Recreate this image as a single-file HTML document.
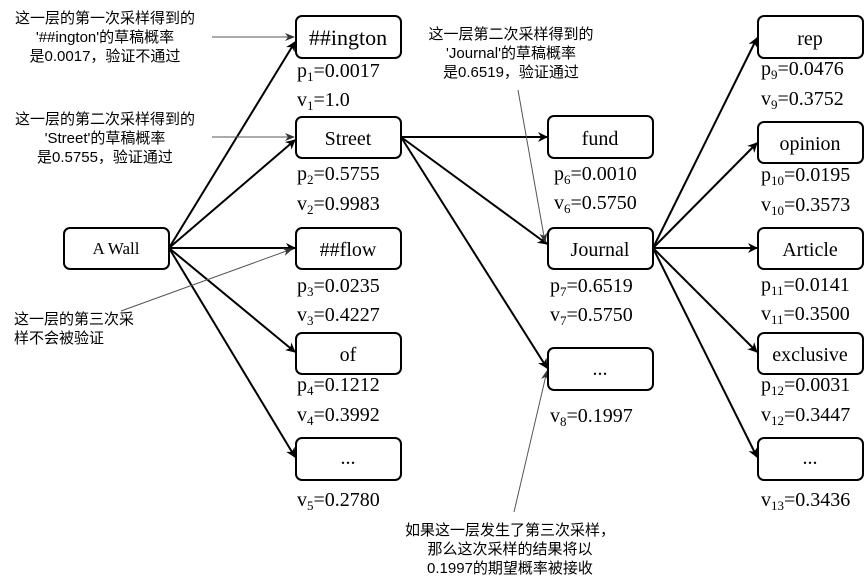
<!DOCTYPE html>
<html><head><meta charset="utf-8"><style>
body{margin:0;background:#fff}
svg{display:block}
.n{font-family:"Liberation Serif",serif;font-size:20px;fill:#000}
.c{font-family:"Liberation Sans","Noto Sans CJK SC",sans-serif;font-size:15px;fill:#000}
rect{fill:#fff;stroke:#000;stroke-width:2}
.a{stroke:#000;stroke-width:2;fill:none;marker-end:url(#ar)}
.t{stroke:#555;stroke-width:1;fill:none;marker-end:url(#ar2)}
</style></head><body>
<svg width="865" height="585" viewBox="0 0 865 585">
<defs>
<marker id="ar" markerWidth="10" markerHeight="10" refX="9" refY="5" orient="auto" markerUnits="userSpaceOnUse"><path d="M0,0 L10,5 L0,10 L3,5 z" fill="#000"/></marker>
<marker id="ar2" markerWidth="10" markerHeight="10" refX="9" refY="5" orient="auto" markerUnits="userSpaceOnUse"><path d="M0,1 L10,5 L0,9 L3,5 z" fill="#333"/></marker>
</defs>
<g>
<line class="a" x1="169" y1="248" x2="295" y2="42"/>
<line class="a" x1="169" y1="248" x2="295" y2="140"/>
<line class="a" x1="169" y1="248" x2="295" y2="248"/>
<line class="a" x1="169" y1="248" x2="295" y2="352"/>
<line class="a" x1="169" y1="248" x2="295" y2="457"/>
<line class="a" x1="401" y1="137" x2="547" y2="137"/>
<line class="a" x1="401" y1="137" x2="547" y2="244"/>
<line class="a" x1="401" y1="137" x2="547" y2="368"/>
<line class="a" x1="653" y1="248" x2="757" y2="38"/>
<line class="a" x1="653" y1="248" x2="757" y2="143"/>
<line class="a" x1="653" y1="248" x2="757" y2="248"/>
<line class="a" x1="653" y1="248" x2="757" y2="352"/>
<line class="a" x1="653" y1="248" x2="757" y2="457"/>
</g>
<g>
<line class="t" x1="212" y1="37" x2="294" y2="37"/>
<line class="t" x1="212" y1="137" x2="294" y2="137"/>
<line class="t" x1="121" y1="311" x2="292" y2="249"/>
<line class="t" x1="518" y1="90" x2="545" y2="242"/>
<line class="t" x1="514" y1="512" x2="547" y2="371"/>
</g>
<rect x="64" y="228" width="105" height="41" rx="6"/>
<rect x="296" y="16" width="105" height="42" rx="6"/>
<rect x="296" y="117" width="105" height="41" rx="6"/>
<rect x="296" y="228" width="105" height="41" rx="6"/>
<rect x="296" y="333" width="105" height="41" rx="6"/>
<rect x="296" y="438" width="105" height="42" rx="6"/>
<rect x="548" y="116" width="105" height="42" rx="6"/>
<rect x="548" y="228" width="105" height="41" rx="6"/>
<rect x="548" y="348" width="105" height="42" rx="6"/>
<rect x="758" y="16" width="105" height="42" rx="6"/>
<rect x="758" y="122" width="105" height="41" rx="6"/>
<rect x="758" y="228" width="105" height="41" rx="6"/>
<rect x="758" y="333" width="105" height="41" rx="6"/>
<rect x="758" y="438" width="105" height="42" rx="6"/>
<g class="n" text-anchor="middle">
<text x="116" y="254" font-size="17">A Wall</text>
<text x="348" y="45" font-size="22">##ington</text>
<text x="348" y="145">Street</text>
<text x="348" y="256">##flow</text>
<text x="348" y="361">of</text>
<text x="348" y="464">...</text>
<text x="600" y="145">fund</text>
<text x="600" y="256">Journal</text>
<text x="600" y="375">...</text>
<text x="810" y="45">rep</text>
<text x="810" y="150">opinion</text>
<text x="810" y="256">Article</text>
<text x="810" y="361">exclusive</text>
<text x="810" y="464">...</text>
</g>
<g class="n">
<text x="297" y="77">p<tspan font-size="13" dy="4">1</tspan><tspan dy="-4">=0.0017</tspan></text>
<text x="297" y="106">v<tspan font-size="13" dy="4">1</tspan><tspan dy="-4">=1.0</tspan></text>
<text x="297" y="180">p<tspan font-size="13" dy="4">2</tspan><tspan dy="-4">=0.5755</tspan></text>
<text x="297" y="210">v<tspan font-size="13" dy="4">2</tspan><tspan dy="-4">=0.9983</tspan></text>
<text x="297" y="292">p<tspan font-size="13" dy="4">3</tspan><tspan dy="-4">=0.0235</tspan></text>
<text x="297" y="321">v<tspan font-size="13" dy="4">3</tspan><tspan dy="-4">=0.4227</tspan></text>
<text x="297" y="391">p<tspan font-size="13" dy="4">4</tspan><tspan dy="-4">=0.1212</tspan></text>
<text x="297" y="421">v<tspan font-size="13" dy="4">4</tspan><tspan dy="-4">=0.3992</tspan></text>
<text x="297" y="506">v<tspan font-size="13" dy="4">5</tspan><tspan dy="-4">=0.2780</tspan></text>
<text x="554" y="180">p<tspan font-size="13" dy="4">6</tspan><tspan dy="-4">=0.0010</tspan></text>
<text x="554" y="209">v<tspan font-size="13" dy="4">6</tspan><tspan dy="-4">=0.5750</tspan></text>
<text x="550" y="292">p<tspan font-size="13" dy="4">7</tspan><tspan dy="-4">=0.6519</tspan></text>
<text x="550" y="321">v<tspan font-size="13" dy="4">7</tspan><tspan dy="-4">=0.5750</tspan></text>
<text x="550" y="422">v<tspan font-size="13" dy="4">8</tspan><tspan dy="-4">=0.1997</tspan></text>
<text x="761" y="75">p<tspan font-size="13" dy="4">9</tspan><tspan dy="-4">=0.0476</tspan></text>
<text x="761" y="105">v<tspan font-size="13" dy="4">9</tspan><tspan dy="-4">=0.3752</tspan></text>
<text x="761" y="181">p<tspan font-size="13" dy="4">10</tspan><tspan dy="-4">=0.0195</tspan></text>
<text x="761" y="211">v<tspan font-size="13" dy="4">10</tspan><tspan dy="-4">=0.3573</tspan></text>
<text x="761" y="291">p<tspan font-size="13" dy="4">11</tspan><tspan dy="-4">=0.0141</tspan></text>
<text x="761" y="320">v<tspan font-size="13" dy="4">11</tspan><tspan dy="-4">=0.3500</tspan></text>
<text x="761" y="391">p<tspan font-size="13" dy="4">12</tspan><tspan dy="-4">=0.0031</tspan></text>
<text x="761" y="421">v<tspan font-size="13" dy="4">12</tspan><tspan dy="-4">=0.3447</tspan></text>
<text x="761" y="506">v<tspan font-size="13" dy="4">13</tspan><tspan dy="-4">=0.3436</tspan></text>
</g>
<g class="c" text-anchor="middle">
<text x="105" y="23">这一层的第一次采样得到的</text>
<text x="105" y="42">'##ington'的草稿概率</text>
<text x="105" y="61">是0.0017，验证不通过</text>
<text x="105" y="124">这一层的第二次采样得到的</text>
<text x="105" y="143">'Street'的草稿概率</text>
<text x="105" y="162">是0.5755，验证通过</text>
<text x="511" y="39">这一层第二次采样得到的</text>
<text x="511" y="58">'Journal'的草稿概率</text>
<text x="511" y="77">是0.6519，验证通过</text>
<text x="510" y="535">如果这一层发生了第三次采样，</text>
<text x="510" y="554">那么这次采样的结果将以</text>
<text x="510" y="573">0.1997的期望概率被接收</text>
</g>
<g class="c">
<text x="14" y="324">这一层的第三次采</text>
<text x="14" y="343">样不会被验证</text>
</g>
</svg>
</body></html>
